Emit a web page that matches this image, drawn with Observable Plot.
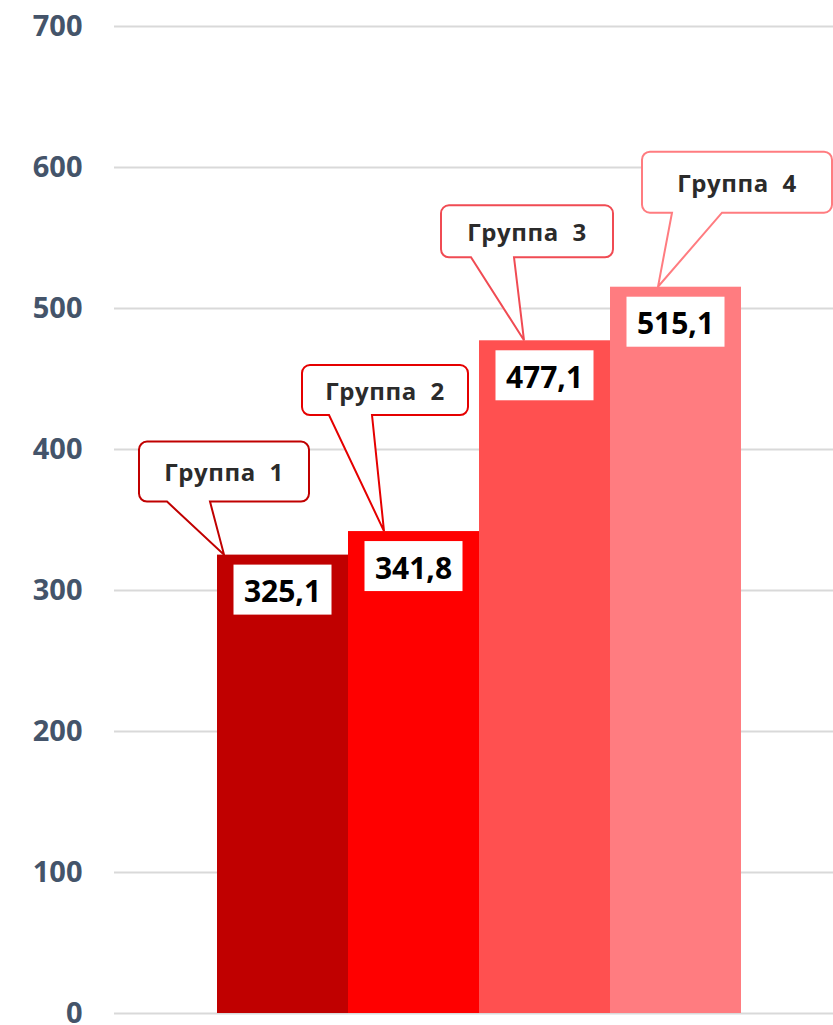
<!DOCTYPE html>
<html><head><meta charset="utf-8">
<script src="https://cdn.jsdelivr.net/npm/d3@7"></script>
<script src="https://cdn.jsdelivr.net/npm/@observablehq/plot@0.6"></script>
<style>html,body{margin:0;padding:0;background:#fff;} svg{display:block}</style>
</head><body><div id="chart"></div>
<script>
// ---- data ----
const groups = ["Группа 1", "Группа 2", "Группа 3", "Группа 4"];
const values = [325.1, 341.8, 477.1, 515.1];
const valueLabels = ["325,1", "341,8", "477,1", "515,1"];
const calloutTexts = ["Группа  1", "Группа  2", "Группа  3", "Группа  4"];
const barColors = ["#C00000", "#FF0000", "#FF5050", "#FF7C80"];
const calloutStrokes = ["#C00000", "#E50000", "#F04B53", "#FF7C80"];
const yTicks = [0, 100, 200, 300, 400, 500, 600, 700];

// callout layout, relative to each bar's top-left corner (pixels)
const calloutLayout = [
  {bx: [-78, 92], by: [-113, -53], tail: [-50, -7], tip: [7, 0]},
  {bx: [-46, 120], by: [-166, -116], tail: [-19, 24], tip: [36, 0]},
  {bx: [-38, 134], by: [-135, -83], tail: [-8, 35], tip: [45, 0]},
  {bx: [32, 222], by: [-135, -74], tail: [62, 112], tip: [48, 0]}
];

const data = groups.map((g, i) => ({group: g, value: values[i], label: valueLabels[i], text: calloutTexts[i], stroke: calloutStrokes[i], layout: calloutLayout[i]}));

const FONT = "'Open Sans', 'Segoe UI', sans-serif";

function calloutPath(ax, ay, L) {
  const x1 = ax + L.bx[0], x2 = ax + L.bx[1], y1 = ay + L.by[0], y2 = ay + L.by[1];
  const r = 8;
  const t1 = ax + L.tail[0], t2 = ax + L.tail[1];
  const tx = ax + L.tip[0], ty = ay + L.tip[1];
  return `M${x1 + r},${y1}H${x2 - r}A${r},${r} 0 0 1 ${x2},${y1 + r}V${y2 - r}A${r},${r} 0 0 1 ${x2 - r},${y2}` +
    `H${t2}L${tx},${ty}L${t1},${y2}H${x1 + r}A${r},${r} 0 0 1 ${x1},${y2 - r}V${y1 + r}A${r},${r} 0 0 1 ${x1 + r},${y1}Z`;
}

function annotations(index, scales) {
  const x = scales.x, y = scales.y;
  const bw = x(groups[1]) - x(groups[0]);
  const g = d3.create("svg:g").attr("font-family", FONT);
  data.forEach(d => {
    const ax = x(d.group), ay = y(d.value);
    const cx = ax + bw / 2;
    // value label box
    g.append("rect").attr("x", cx - 49).attr("y", ay + 10).attr("width", 98).attr("height", 50).attr("fill", "#fff");
    g.append("text").attr("x", cx).attr("y", ay + 36).attr("text-anchor", "middle").attr("dominant-baseline", "central")
      .attr("font-size", 30).attr("font-weight", "bold").attr("fill", "#000").text(d.label);
    // callout
    const L = d.layout;
    g.append("path").attr("d", calloutPath(ax, ay, L)).attr("fill", "#fff").attr("stroke", d.stroke).attr("stroke-width", 2);
    g.append("text").attr("x", ax + (L.bx[0] + L.bx[1]) / 2).attr("y", ay + (L.by[0] + L.by[1]) / 2)
      .attr("text-anchor", "middle").attr("dominant-baseline", "central").style("white-space", "pre")
      .attr("font-size", 24).attr("letter-spacing", 0.6).attr("font-weight", "bold").attr("fill", "#2b2b2b").text(d.text);
  });
  return g.node();
}

const chart = Plot.plot({
  width: 833,
  height: 1025,
  marginTop: 26,
  marginBottom: 12,
  marginLeft: 114,
  marginRight: 0,
  style: {fontFamily: FONT, background: "#fff"},
  x: {domain: groups, range: [215, 742], padding: 0, axis: null},
  y: {domain: [0, 700], axis: null},
  color: {domain: groups, range: barColors},
  marks: [
    Plot.ruleY(yTicks, {stroke: "#D9D9D9", strokeWidth: 2}),
    Plot.text(yTicks, {y: d => d, frameAnchor: "left", dx: -32, textAnchor: "end", fontSize: 29, fontWeight: "bold", fill: "#44546A", text: d => String(d)}),
    Plot.barY(data, {x: "group", y: "value", fill: "group"}),
    annotations
  ]
});
document.getElementById("chart").appendChild(chart);
</script>
</body></html>
